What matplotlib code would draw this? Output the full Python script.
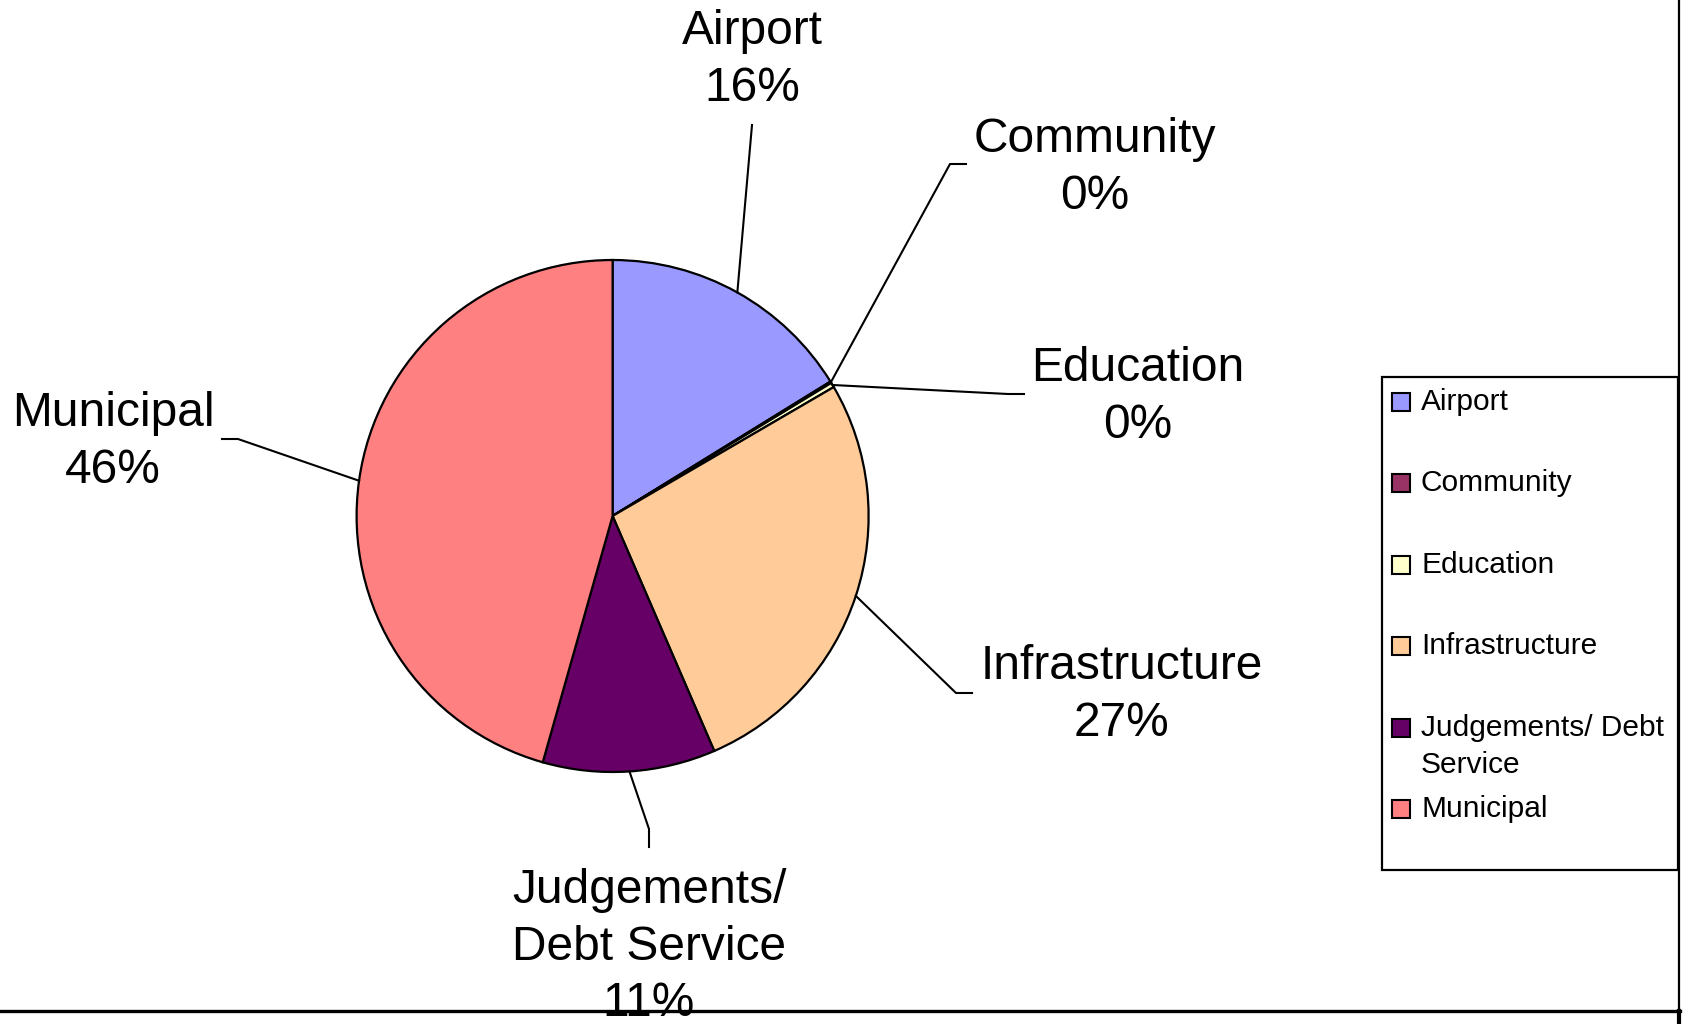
import numpy as np
import matplotlib
matplotlib.use("Agg")
import matplotlib.pyplot as plt
from matplotlib.patches import Rectangle
from matplotlib.lines import Line2D

# Budget share by category
categories = ["Airport", "Community", "Education", "Infrastructure",
              "Judgements/ Debt Service", "Municipal"]
shares = [16.2, 0.1, 0.3, 26.9, 10.9, 45.6]
slice_labels = ["Airport", "Community", "Education", "Infrastructure",
                "Judgements/\nDebt Service", "Municipal"]
legend_labels = ["Airport", "Community", "Education", "Infrastructure",
                 "Judgements/ Debt\nService", "Municipal"]
colors = ["#9999FF", "#993366", "#FFFFCC", "#FFCC99", "#660066", "#FF8080"]

W, H = 1697, 1024
DPI = 100
FONT = "Liberation Sans"

fig = plt.figure(figsize=(W / DPI, H / DPI), dpi=DPI)
fig.patch.set_facecolor("white")

# pie placement (pixels, origin top-left)
cx, cy, R = 612.6, 516.0, 256.0
ax = fig.add_axes([(cx - R) / W, (H - cy - R) / H, 2 * R / W, 2 * R / H])

wedges, _ = ax.pie(shares, colors=colors, startangle=90, counterclock=False,
                   radius=1.0,
                   wedgeprops=dict(edgecolor="black", linewidth=1.6))
ax.set_xlim(-1, 1)
ax.set_ylim(-1, 1)
ax.set_aspect("equal")
ax.axis("off")


def to_data(px, py):
    return (px - cx) / R, (cy - py) / R


# label layout: text centre, leader elbow, leader end (pixels)
label_layout = [
    dict(text=(752, 60), elbow=(752, 125), end=(752, 125)),
    dict(text=(1095, 168), elbow=(950, 164), end=(966, 164)),
    dict(text=(1138, 397), elbow=(1008, 394), end=(1024, 394)),
    dict(text=(1122, 695), elbow=(956, 693), end=(972, 693)),
    dict(text=(649, 947), elbow=(649, 829), end=(649, 847)),
    dict(text=(113, 442), elbow=(238, 439), end=(222, 439)),
]

total = sum(shares)
for w, lab, val, lay in zip(wedges, slice_labels, shares, label_layout):
    mid = np.deg2rad((w.theta1 + w.theta2) / 2)
    sx, sy = np.cos(mid), np.sin(mid)
    ex, ey = to_data(*lay["elbow"])
    fx, fy = to_data(*lay["end"])
    ax.add_line(Line2D([sx, ex, fx], [sy, ey, fy], color="black",
                       linewidth=1.5, clip_on=False))
    tx, ty = to_data(*lay["text"])
    pct = int(np.floor(val / total * 100 + 0.5))
    ax.text(tx, ty, f"{lab}\n{pct}%", ha="center", va="center",
            fontsize=34.5, family=FONT, linespacing=1.34, clip_on=False)


def fx_(px):
    return px / W


def fy_(py):
    return 1 - py / H


# legend box
lx0, ly0, lx1, ly1 = 1382, 377, 1678, 870
fig.add_artist(Rectangle((fx_(lx0), fy_(ly1)), (lx1 - lx0) / W, (ly1 - ly0) / H,
                         transform=fig.transFigure, facecolor="white",
                         edgecolor="black", linewidth=1.6))
sq = 18
entry_y0, entry_step = 402, 81.4
for i, (lab, col) in enumerate(zip(legend_labels, colors)):
    yc = entry_y0 + i * entry_step
    fig.add_artist(Rectangle((fx_(1401 - sq / 2), fy_(yc + sq / 2)), sq / W, sq / H,
                             transform=fig.transFigure, facecolor=col,
                             edgecolor="black", linewidth=1.5))
    for j, line in enumerate(lab.split("\n")):
        fig.text(fx_(1421), fy_(yc + j * 37), line, ha="left", va="center",
                 fontsize=21.5, family=FONT)

# chart area frame (right and bottom edges)
fig.add_artist(Line2D([fx_(1679), fx_(1679)], [fy_(0), fy_(1011)],
                      transform=fig.transFigure, color="black", linewidth=1.6))
fig.add_artist(Line2D([fx_(0), fx_(1680)], [fy_(1011), fy_(1011)],
                      transform=fig.transFigure, color="black", linewidth=2.4))
fig.add_artist(Line2D([fx_(1679), fx_(1679)], [fy_(1011), fy_(1024)],
                      transform=fig.transFigure, color="black", linewidth=3.0))

fig.savefig("out.png", dpi=DPI, facecolor="white")
